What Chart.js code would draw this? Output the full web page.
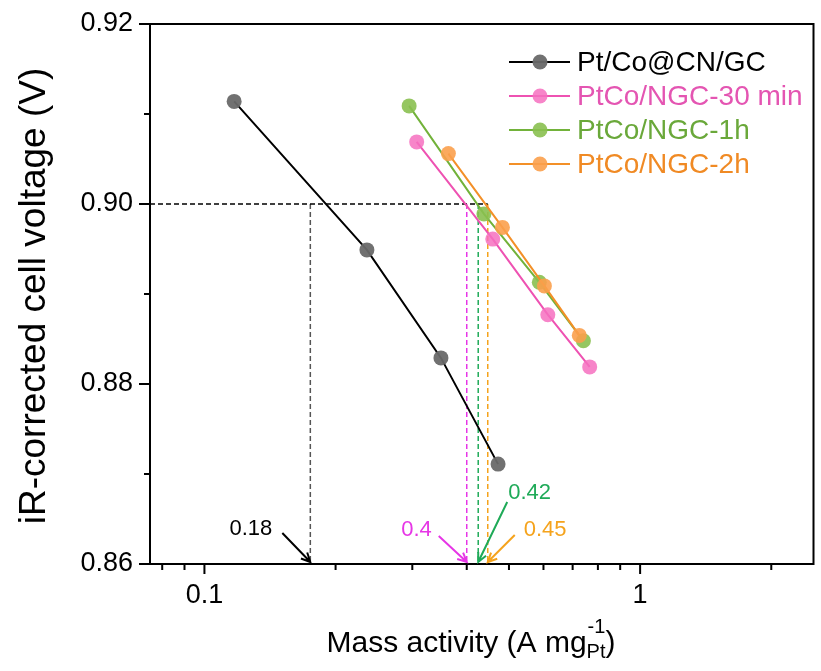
<!DOCTYPE html>
<html lang="en">
<head>
<meta charset="UTF-8">
<title>Mass activity vs iR-corrected cell voltage</title>
<style>
    body { margin: 0; background: #fff; }
    #wrap { width: 821px; height: 671px; }
</style>
</head>
<body>
<div id="wrap"><canvas id="chart" width="821" height="671"></canvas></div>
<script src="https://cdn.jsdelivr.net/npm/chart.js"></script>
<script>
// series names
const seriesNames = ["Pt/Co@CN/GC", "PtCo/NGC-30 min", "PtCo/NGC-1h", "PtCo/NGC-2h"];

// mass activity (A mg-1 Pt) / iR-corrected voltage (V)
const cnX = [0.117, 0.236, 0.349, 0.472];
const cnY = [0.9114, 0.8949, 0.8829, 0.8711];
const ngc30X = [0.307, 0.459, 0.614, 0.766];
const ngc30Y = [0.9069, 0.8961, 0.8877, 0.8819];
const ngc1hX = [0.295, 0.438, 0.587, 0.741];
const ngc1hY = [0.9109, 0.8989, 0.8913, 0.8848];
const ngc2hX = [0.363, 0.483, 0.603, 0.725];
const ngc2hY = [0.9056, 0.8974, 0.8909, 0.8854];

// mass activity read at 0.90 V
const refVoltage = 0.90;
const markX = [0.175, 0.40, 0.425, 0.447];
const markLabels = ["0.18", "0.4", "0.42", "0.45"];

// axes
const xMin = 0.075, xMax = 2.5;
const yMin = 0.86, yMax = 0.92;
const xTicks = [0.1, 1];
const xMinor = [0.08, 0.09, 0.2, 0.3, 0.4, 0.5, 0.6, 0.7, 0.8, 0.9, 2];
const yTicks = [0.86, 0.88, 0.90, 0.92];
const yMinor = [0.87, 0.89, 0.91];

const FONT = "'Liberation Sans', Arial, sans-serif";

const lineColors = ["#000000", "#ee52b2", "#72b23a", "#f39028"];
const dotColors = ["rgba(105,105,105,0.95)", "rgba(246,112,192,0.85)", "rgba(138,192,80,0.9)", "rgba(251,160,76,0.9)"];
const textColors = ["#000000", "#e455b2", "#6aa83a", "#f08a24"];
const markColors = ["#555555", "#e636e6", "#1faa58", "#f5a31c"];

function pts(xs, ys) {
    return xs.map((x, i) => ({ x: x, y: ys[i] }));
}

const seriesData = [pts(cnX, cnY), pts(ngc30X, ngc30Y), pts(ngc1hX, ngc1hY), pts(ngc2hX, ngc2hY)];
const seriesOrder = [4, 3, 2, 1];

const datasets = seriesData.map((d, i) => ({
    label: seriesNames[i],
    data: d,
    showLine: true,
    borderColor: lineColors[i],
    borderWidth: 2,
    backgroundColor: dotColors[i],
    pointBackgroundColor: dotColors[i],
    pointBorderWidth: 0,
    pointRadius: 7.5,
    pointHoverRadius: 7.5,
    order: seriesOrder[i]
}));

// dashed guide lines
datasets.push({
    label: "guide",
    data: [{ x: xMin, y: refVoltage }, { x: markX[3], y: refVoltage }],
    showLine: true,
    borderColor: "#000000",
    borderWidth: 1.5,
    borderDash: [5, 3],
    pointRadius: 0,
    order: 10
});
markX.forEach((v, i) => {
    datasets.push({
        label: "guide",
        data: [{ x: v, y: refVoltage }, { x: v, y: yMin }],
        showLine: true,
        borderColor: markColors[i],
        borderWidth: 1.5,
        borderDash: [5, 3],
        pointRadius: 0,
        order: 10
    });
});

// arrow offsets from the tip: [tailDx, tailDy, textX, textY, align]
const arrowGeom = [
    [-28, -29, -38, -33, "right"],
    [-28, -26, -35, -32, "right"],
    [29, -60, 30, -69, "left"],
    [27, -27, 36, -32, "left"]
];

const decor = {
    id: "decor",
    afterDraw(chart) {
        const ctx = chart.ctx;
        const a = chart.chartArea;
        const xs = chart.scales.x, ys = chart.scales.y;
        ctx.save();

        // frame
        ctx.strokeStyle = "#000";
        ctx.lineWidth = 2;
        ctx.strokeRect(a.left, a.top, a.right - a.left, a.bottom - a.top);

        // ticks
        ctx.lineWidth = 2;
        ctx.beginPath();
        yTicks.forEach(v => { const p = ys.getPixelForValue(v); ctx.moveTo(a.left - 11, p); ctx.lineTo(a.left, p); });
        yMinor.forEach(v => { const p = ys.getPixelForValue(v); ctx.moveTo(a.left - 6, p); ctx.lineTo(a.left, p); });
        xTicks.forEach(v => { const p = xs.getPixelForValue(v); ctx.moveTo(p, a.bottom); ctx.lineTo(p, a.bottom + 10); });
        xMinor.forEach(v => { const p = xs.getPixelForValue(v); ctx.moveTo(p, a.bottom); ctx.lineTo(p, a.bottom + 6); });
        ctx.stroke();

        // arrows + values
        markX.forEach((v, i) => {
            const g = arrowGeom[i];
            const tx = xs.getPixelForValue(v), ty = a.bottom - 2;
            const sx = tx + g[0], sy = ty + g[1];
            ctx.strokeStyle = markColors[i] === "#555555" ? "#000" : markColors[i];
            ctx.fillStyle = ctx.strokeStyle;
            ctx.lineWidth = 2;
            const ang = Math.atan2(ty - sy, tx - sx);
            ctx.beginPath();
            ctx.moveTo(sx, sy);
            ctx.lineTo(tx, ty);
            ctx.moveTo(tx - 10 * Math.cos(ang - 0.45), ty - 10 * Math.sin(ang - 0.45));
            ctx.lineTo(tx, ty);
            ctx.lineTo(tx - 10 * Math.cos(ang + 0.45), ty - 10 * Math.sin(ang + 0.45));
            ctx.stroke();
            ctx.font = "22px " + FONT;
            ctx.textAlign = g[4];
            ctx.textBaseline = "middle";
            ctx.fillText(markLabels[i], tx + g[2], ty + g[3]);
        });

        // legend
        ctx.textAlign = "left";
        ctx.textBaseline = "middle";
        ctx.font = "28px " + FONT;
        seriesNames.forEach((name, i) => {
            const y = 62 + i * 34;
            ctx.strokeStyle = lineColors[i];
            ctx.lineWidth = 2;
            ctx.beginPath();
            ctx.moveTo(509, y);
            ctx.lineTo(570, y);
            ctx.stroke();
            ctx.fillStyle = dotColors[i];
            ctx.beginPath();
            ctx.arc(540, y, 7.5, 0, Math.PI * 2);
            ctx.fill();
            ctx.fillStyle = textColors[i];
            ctx.fillText(name, 577, y + 1);
        });

        // axis titles
        ctx.fillStyle = "#000";
        ctx.font = "37px " + FONT;
        ctx.save();
        ctx.translate(35, 296);
        ctx.rotate(-Math.PI / 2);
        ctx.textAlign = "center";
        ctx.textBaseline = "middle";
        ctx.fillText("iR-corrected cell voltage (V)", 0, 0);
        ctx.restore();

        const main = "Mass activity (A mg";
        ctx.font = "30px " + FONT;
        const w1 = ctx.measureText(main).width;
        ctx.font = "20px " + FONT;
        const wSub = ctx.measureText("Pt").width;
        ctx.font = "30px " + FONT;
        const wEnd = ctx.measureText(")").width;
        const total = w1 + wSub + wEnd;
        let x0 = 471 - total / 2;
        const base = 652;
        ctx.textAlign = "left";
        ctx.textBaseline = "alphabetic";
        ctx.fillText(main, x0, base);
        ctx.font = "20px " + FONT;
        ctx.fillText("-1", x0 + w1 + 1, base - 19);
        ctx.fillText("Pt", x0 + w1, base + 6);
        ctx.font = "30px " + FONT;
        ctx.fillText(")", x0 + w1 + wSub, base);
        ctx.restore();
    }
};

new Chart(document.getElementById("chart"), {
    type: "scatter",
    data: { datasets: datasets },
    options: {
        responsive: false,
        animation: false,
        layout: { padding: { left: 0, top: 24, right: 3, bottom: 0 } },
        plugins: {
            legend: { display: false },
            tooltip: { enabled: false }
        },
        scales: {
            x: {
                type: "logarithmic",
                min: xMin,
                max: xMax,
                afterFit(s) { s.height = 107; s.paddingLeft = 0; s.paddingRight = 0; },
                afterBuildTicks(s) { s.ticks = xTicks.map(v => ({ value: v })); },
                grid: { display: false, drawTicks: false },
                border: { display: false },
                ticks: {
                    autoSkip: false,
                    maxRotation: 0,
                    padding: 15,
                    color: "#000",
                    font: { family: FONT, size: 27 },
                    callback: v => String(v)
                }
            },
            y: {
                min: yMin,
                max: yMax,
                afterFit(s) { s.width = 150; s.paddingTop = 0; s.paddingBottom = 0; },
                afterBuildTicks(s) { s.ticks = yTicks.map(v => ({ value: v })); },
                grid: { display: false, drawTicks: false },
                border: { display: false },
                ticks: {
                    padding: 17,
                    color: "#000",
                    font: { family: FONT, size: 27 },
                    callback: v => v.toFixed(2)
                }
            }
        }
    },
    plugins: [decor]
});
</script>
</body>
</html>
